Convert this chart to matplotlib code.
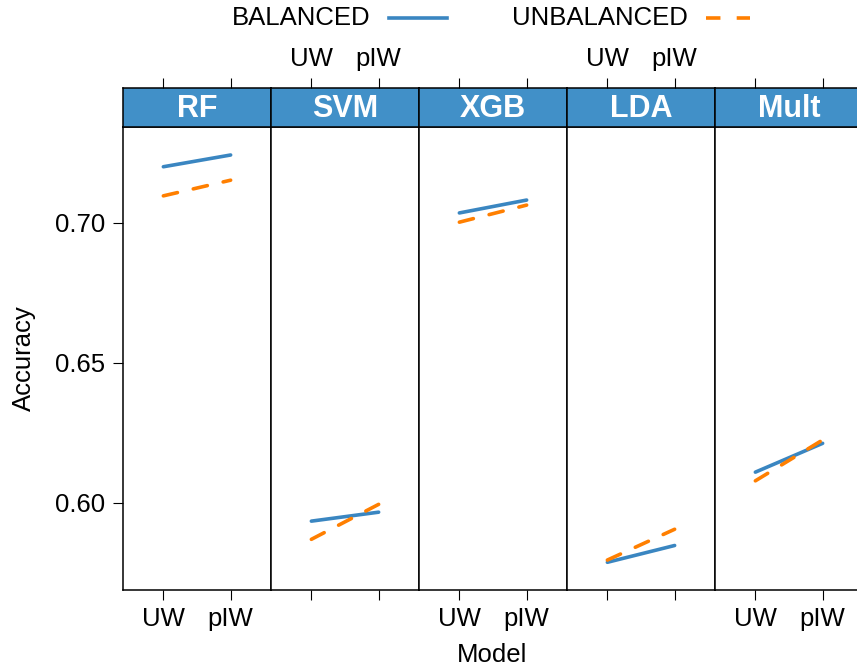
import matplotlib.pyplot as plt
from matplotlib.lines import Line2D

plt.rcParams['font.family'] = ['Liberation Sans', 'DejaVu Sans']

models = ["RF", "SVM", "XGB", "LDA", "Mult"]
weights = ["UW", "pIW"]
balanced = [[0.7200, 0.7242], [0.5934, 0.5966], [0.7035, 0.7081],
            [0.5787, 0.5847], [0.6109, 0.6212]]
unbalanced = [[0.7096, 0.7152], [0.5869, 0.5994], [0.7002, 0.7063],
              [0.5795, 0.5905], [0.6078, 0.6224]]

blue = "#3a86c1"
orange = "#ff7f00"
strip_col = "#4190c8"
fs = 18.5
lw = 2.6

W, H = 857, 671
fig = plt.figure(figsize=(W / 100, H / 100), dpi=100)

left, pw = 123, 148
top_data, bot_data = 127, 590
strip_top = 88

xpos = [1, 2]
for i, m in enumerate(models):
    x0 = (left + i * pw) / W
    ax = fig.add_axes([x0, (H - bot_data) / H, pw / W, (bot_data - top_data) / H])
    ax.plot(xpos, balanced[i], color=blue, lw=lw, solid_capstyle="round")
    ax.plot(xpos, unbalanced[i], color=orange, lw=lw, dashes=(4, 4.5),
            dash_capstyle="round")
    ax.set_xlim(0.4, 2.6)
    ax.set_ylim(0.5688, 0.7342)
    ax.set_xticks(xpos)
    if i % 2 == 0:
        ax.set_xticklabels(weights)
    else:
        ax.set_xticklabels([])
    ax.tick_params(axis="x", direction="out", length=7, width=0.8,
                   labelsize=fs, pad=5)
    if i == 0:
        ax.set_yticks([0.60, 0.65, 0.70])
        ax.set_yticklabels(["0.60", "0.65", "0.70"])
        ax.tick_params(axis="y", direction="out", length=7, width=0.8,
                       labelsize=fs, pad=6)
    else:
        ax.set_yticks([])
    for s in ax.spines.values():
        s.set_linewidth(1.1)

    # strip with panel title and the top axis
    sa = fig.add_axes([x0, (H - top_data) / H, pw / W, (top_data - strip_top) / H])
    sa.set_facecolor(strip_col)
    sa.set_xlim(0.4, 2.6)
    sa.set_ylim(0, 1)
    sa.set_yticks([])
    sa.set_xticks(xpos)
    sa.xaxis.tick_top()
    if i % 2 == 1:
        sa.set_xticklabels(weights)
    else:
        sa.set_xticklabels([])
    sa.tick_params(axis="x", direction="out", length=7, width=0.8,
                   labelsize=fs, pad=5)
    sa.text(1.5, 0.47, m, ha="center", va="center", color="white",
            fontsize=22, fontweight="bold")
    for s in sa.spines.values():
        s.set_linewidth(1.1)

fig.text(24 / W, 1 - 358 / H, "Accuracy", rotation=90, ha="center",
         va="center", fontsize=fs)
fig.text(492 / W, 1 - 655 / H, "Model", ha="center", va="center", fontsize=fs)

# legend across the top
fig.text(370 / W, 1 - 18 / H, "BALANCED", ha="right", va="center", fontsize=fs)
fig.add_artist(Line2D([389 / W, 447 / W], [1 - 18 / H] * 2, color=blue,
                      lw=lw, transform=fig.transFigure))
fig.text(688 / W, 1 - 18 / H, "UNBALANCED", ha="right", va="center", fontsize=fs)
fig.add_artist(Line2D([706 / W, 750 / W], [1 - 18 / H] * 2, color=orange,
                      lw=lw, dashes=(4, 4.5), transform=fig.transFigure))

fig.savefig("out.png", dpi=100)
